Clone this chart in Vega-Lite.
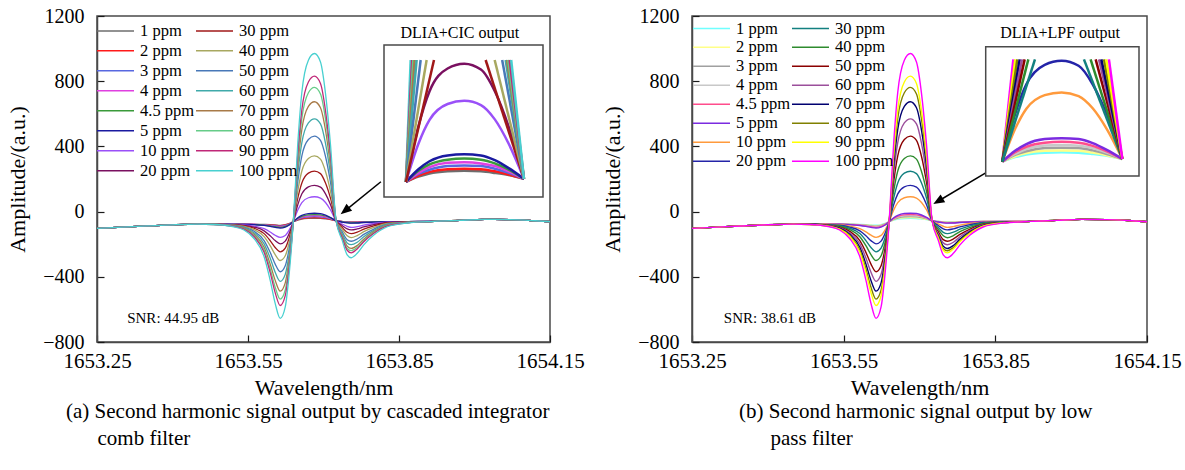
{
  "$schema": "https://vega.github.io/schema/vega-lite/v6.json",
  "background": "white",
  "padding": 5,
  "config": {
    "font": "Times New Roman, Liberation Serif, serif",
    "text": {"font": "Times New Roman, Liberation Serif, serif"},
    "view": {"stroke": "#4a4a4a", "strokeWidth": 1.5},
    "axis": {"grid": false, "domainColor": "#4a4a4a", "domainWidth": 1.5, "tickColor": "#1a1a1a", "tickWidth": 1.2, "tickSize": -7, "labelColor": "black", "titleColor": "black", "labelFont": "Times New Roman, Liberation Serif, serif", "titleFont": "Times New Roman, Liberation Serif, serif", "titleFontWeight": "normal"},
    "axisX": {"labelFontSize": 21, "labelPadding": 15, "titleFontSize": 22, "titlePadding": 6, "labelFlush": false, "labelOverlap": false, "labelBound": false},
    "axisY": {"labelFontSize": 20, "labelPadding": 20, "titleFontSize": 22, "titlePadding": 13, "format": "d"},
    "legend": {"labelFont": "Times New Roman, Liberation Serif, serif", "labelFontSize": 16.5, "labelColor": "black", "symbolType": "stroke", "symbolSize": 1369, "symbolStrokeWidth": 1.5, "padding": 0, "rowPadding": 0, "columnPadding": 0, "labelOffset": 5},
    "title": {"font": "Times New Roman, Liberation Serif, serif", "fontSize": 21, "fontWeight": "normal", "color": "black"}
  },
  "datasets": {
    "main": [
      {"x":1653.25,"p1":-103,"p2":-103,"p3":-103,"p4":-103,"p4_5":-103,"p5":-103,"p10":-103,"p20":-103,"p30":-103,"p40":-103,"p50":-103,"p60":-103,"p70":-103,"p80":-103,"p90":-103,"p100":-103},
      {"x":1653.3,"p1":-95,"p2":-95,"p3":-95,"p4":-95,"p4_5":-95,"p5":-95,"p10":-95,"p20":-95,"p30":-95,"p40":-95,"p50":-95,"p60":-95,"p70":-95,"p80":-95,"p90":-95,"p100":-95},
      {"x":1653.35,"p1":-88,"p2":-88,"p3":-88,"p4":-88,"p4_5":-88,"p5":-88,"p10":-88,"p20":-88,"p30":-88,"p40":-88,"p50":-88,"p60":-88,"p70":-88,"p80":-88,"p90":-88,"p100":-88},
      {"x":1653.4,"p1":-81,"p2":-81,"p3":-81,"p4":-81,"p4_5":-81,"p5":-81,"p10":-81,"p20":-81,"p30":-81,"p40":-81,"p50":-81,"p60":-81,"p70":-81,"p80":-81,"p90":-81,"p100":-81},
      {"x":1653.45,"p1":-77,"p2":-77,"p3":-77,"p4":-77,"p4_5":-77,"p5":-77,"p10":-77,"p20":-77,"p30":-77,"p40":-77,"p50":-77,"p60":-77,"p70":-77,"p80":-77,"p90":-77,"p100":-77},
      {"x":1653.482,"p1":-76,"p2":-76,"p3":-76,"p4":-76,"p4_5":-76,"p5":-76,"p10":-76,"p20":-77,"p30":-77,"p40":-77,"p50":-78,"p60":-78,"p70":-78,"p80":-79,"p90":-79,"p100":-79},
      {"x":1653.522,"p1":-77,"p2":-77,"p3":-77,"p4":-78,"p4_5":-78,"p5":-78,"p10":-79,"p20":-81,"p30":-82,"p40":-83,"p50":-85,"p60":-87,"p70":-89,"p80":-90,"p90":-91,"p100":-93},
      {"x":1653.542,"p1":-77,"p2":-77,"p3":-77,"p4":-77,"p4_5":-78,"p5":-78,"p10":-81,"p20":-84,"p30":-87,"p40":-90,"p50":-95,"p60":-99,"p70":-102,"p80":-106,"p90":-108,"p100":-113},
      {"x":1653.562,"p1":-78,"p2":-78,"p3":-78,"p4":-79,"p4_5":-80,"p5":-80,"p10":-89,"p20":-95,"p30":-102,"p40":-111,"p50":-121,"p60":-130,"p70":-139,"p80":-147,"p90":-153,"p100":-165},
      {"x":1653.582,"p1":-79,"p2":-80,"p3":-81,"p4":-82,"p4_5":-83,"p5":-85,"p10":-105,"p20":-118,"p30":-135,"p40":-154,"p50":-178,"p60":-198,"p70":-219,"p80":-236,"p90":-250,"p100":-277},
      {"x":1653.594,"p1":-80,"p2":-82,"p3":-84,"p4":-86,"p4_5":-88,"p5":-91,"p10":-125,"p20":-148,"p30":-178,"p40":-209,"p50":-250,"p60":-285,"p70":-321,"p80":-350,"p90":-373,"p100":-420},
      {"x":1653.604,"p1":-82,"p2":-84,"p3":-87,"p4":-90,"p4_5":-93,"p5":-97,"p10":-145,"p20":-178,"p30":-220,"p40":-264,"p50":-322,"p60":-372,"p70":-422,"p80":-464,"p90":-497,"p100":-563},
      {"x":1653.614,"p1":-84,"p2":-86,"p3":-89,"p4":-93,"p4_5":-97,"p5":-101,"p10":-158,"p20":-198,"p30":-247,"p40":-300,"p50":-369,"p60":-428,"p70":-488,"p80":-537,"p90":-576,"p100":-655},
      {"x":1653.624,"p1":-80,"p2":-82,"p3":-85,"p4":-88,"p4_5":-91,"p5":-95,"p10":-146,"p20":-181,"p30":-224,"p40":-271,"p50":-332,"p60":-385,"p70":-437,"p80":-481,"p90":-516,"p100":-585},
      {"x":1653.632,"p1":-73,"p2":-74,"p3":-76,"p4":-78,"p4_5":-80,"p5":-82,"p10":-112,"p20":-133,"p30":-159,"p40":-188,"p50":-224,"p60":-256,"p70":-287,"p80":-314,"p90":-334,"p100":-376},
      {"x":1653.64,"p1":-62,"p2":-62,"p3":-62,"p4":-62,"p4_5":-62,"p5":-62,"p10":-62,"p20":-62,"p30":-62,"p40":-62,"p50":-62,"p60":-62,"p70":-62,"p80":-62,"p90":-62,"p100":-62},
      {"x":1653.649,"p1":-52,"p2":-50,"p3":-47,"p4":-45,"p4_5":-41,"p5":-38,"p10":10,"p20":43,"p30":84,"p40":128,"p50":185,"p60":235,"p70":284,"p80":325,"p90":358,"p100":423},
      {"x":1653.657,"p1":-46,"p2":-43,"p3":-39,"p4":-34,"p4_5":-29,"p5":-23,"p10":55,"p20":109,"p30":176,"p40":249,"p50":342,"p60":423,"p70":504,"p80":572,"p90":625,"p100":732},
      {"x":1653.67,"p1":-42,"p2":-38,"p3":-32,"p4":-26,"p4_5":-20,"p5":-12,"p10":85,"p20":152,"p30":236,"p40":326,"p50":442,"p60":544,"p70":645,"p80":729,"p90":795,"p100":929},
      {"x":1653.682,"p1":-41,"p2":-37,"p3":-31,"p4":-25,"p4_5":-18,"p5":-10,"p10":91,"p20":161,"p30":248,"p40":342,"p50":463,"p60":569,"p70":674,"p80":762,"p90":831,"p100":970},
      {"x":1653.694,"p1":-42,"p2":-38,"p3":-32,"p4":-27,"p4_5":-20,"p5":-12,"p10":83,"p20":150,"p30":233,"p40":322,"p50":437,"p60":538,"p70":637,"p80":721,"p90":786,"p100":918},
      {"x":1653.704,"p1":-45,"p2":-42,"p3":-37,"p4":-32,"p4_5":-27,"p5":-21,"p10":56,"p20":109,"p30":175,"p40":246,"p50":338,"p60":419,"p70":499,"p80":566,"p90":618,"p100":724},
      {"x":1653.714,"p1":-49,"p2":-48,"p3":-45,"p4":-42,"p4_5":-39,"p5":-36,"p10":10,"p20":42,"p30":81,"p40":123,"p50":177,"p60":225,"p70":272,"p80":312,"p90":343,"p100":406},
      {"x":1653.725,"p1":-56,"p2":-56,"p3":-56,"p4":-56,"p4_5":-56,"p5":-56,"p10":-56,"p20":-56,"p30":-56,"p40":-56,"p50":-56,"p60":-56,"p70":-56,"p80":-56,"p90":-56,"p100":-56},
      {"x":1653.737,"p1":-60,"p2":-61,"p3":-61,"p4":-62,"p4_5":-63,"p5":-64,"p10":-76,"p20":-85,"p30":-97,"p40":-109,"p50":-123,"p60":-135,"p70":-147,"p80":-155,"p90":-160,"p100":-175},
      {"x":1653.747,"p1":-63,"p2":-64,"p3":-65,"p4":-66,"p4_5":-67,"p5":-69,"p10":-90,"p20":-106,"p30":-127,"p40":-148,"p50":-172,"p60":-192,"p70":-212,"p80":-226,"p90":-237,"p100":-265},
      {"x":1653.755,"p1":-64,"p2":-65,"p3":-66,"p4":-68,"p4_5":-69,"p5":-71,"p10":-97,"p20":-112,"p30":-135,"p40":-160,"p50":-182,"p60":-203,"p70":-226,"p80":-240,"p90":-253,"p100":-283},
      {"x":1653.767,"p1":-64,"p2":-64,"p3":-66,"p4":-67,"p4_5":-68,"p5":-70,"p10":-92,"p20":-106,"p30":-126,"p40":-147,"p50":-168,"p60":-188,"p70":-208,"p80":-220,"p90":-229,"p100":-256},
      {"x":1653.78,"p1":-63,"p2":-63,"p3":-64,"p4":-65,"p4_5":-66,"p5":-67,"p10":-83,"p20":-94,"p30":-108,"p40":-123,"p50":-140,"p60":-154,"p70":-169,"p80":-179,"p90":-185,"p100":-204},
      {"x":1653.8,"p1":-62,"p2":-62,"p3":-62,"p4":-63,"p4_5":-63,"p5":-64,"p10":-73,"p20":-80,"p30":-88,"p40":-97,"p50":-107,"p60":-115,"p70":-123,"p80":-129,"p90":-133,"p100":-144},
      {"x":1653.827,"p1":-61,"p2":-61,"p3":-61,"p4":-61,"p4_5":-61,"p5":-62,"p10":-65,"p20":-67,"p30":-70,"p40":-73,"p50":-77,"p60":-80,"p70":-83,"p80":-86,"p90":-88,"p100":-93},
      {"x":1653.867,"p1":-61,"p2":-61,"p3":-61,"p4":-61,"p4_5":-61,"p5":-61,"p10":-62,"p20":-63,"p30":-64,"p40":-65,"p50":-66,"p60":-67,"p70":-68,"p80":-68,"p90":-69,"p100":-70},
      {"x":1653.92,"p1":-60,"p2":-60,"p3":-60,"p4":-60,"p4_5":-60,"p5":-60,"p10":-60,"p20":-60,"p30":-60,"p40":-60,"p50":-60,"p60":-60,"p70":-60,"p80":-60,"p90":-60,"p100":-60},
      {"x":1653.97,"p1":-54,"p2":-54,"p3":-54,"p4":-54,"p4_5":-54,"p5":-54,"p10":-54,"p20":-54,"p30":-54,"p40":-54,"p50":-54,"p60":-54,"p70":-54,"p80":-54,"p90":-54,"p100":-54},
      {"x":1654.02,"p1":-48,"p2":-48,"p3":-48,"p4":-48,"p4_5":-48,"p5":-48,"p10":-48,"p20":-48,"p30":-48,"p40":-48,"p50":-48,"p60":-48,"p70":-48,"p80":-48,"p90":-48,"p100":-48},
      {"x":1654.07,"p1":-49,"p2":-49,"p3":-49,"p4":-49,"p4_5":-49,"p5":-49,"p10":-49,"p20":-49,"p30":-49,"p40":-49,"p50":-49,"p60":-49,"p70":-49,"p80":-49,"p90":-49,"p100":-49},
      {"x":1654.12,"p1":-56,"p2":-56,"p3":-56,"p4":-56,"p4_5":-56,"p5":-56,"p10":-56,"p20":-56,"p30":-56,"p40":-56,"p50":-56,"p60":-56,"p70":-56,"p80":-56,"p90":-56,"p100":-56},
      {"x":1654.15,"p1":-62,"p2":-62,"p3":-62,"p4":-62,"p4_5":-62,"p5":-62,"p10":-62,"p20":-62,"p30":-62,"p40":-62,"p50":-62,"p60":-62,"p70":-62,"p80":-62,"p90":-62,"p100":-62}
    ]
  },
  "hconcat": [
    {
      "width": 453, "height": 326,
      "title": {"text": ["(a) Second harmonic signal output by cascaded integrator", "\u200b\u00a0\u00a0\u00a0\u00a0\u00a0\u00a0comb filter"], "orient": "bottom", "anchor": "start", "frame": "group", "dx": -31, "offset": 3, "lineHeight": 27, "align": "left"},
      "layer": [
        {"layer": [
          {"data": {"name": "main"},
           "transform": [{"fold": ["p1","p2","p3","p4","p4_5","p5","p10","p20","p30","p40","p50","p60","p70","p80","p90","p100"], "as": ["c", "y"]}],
           "mark": {"type": "line", "interpolate": "monotone", "strokeWidth": 1.3},
           "encoding": {
             "x": {"field": "x", "type": "quantitative", "scale": {"domain": [1653.25, 1654.15], "nice": false, "zero": false}, "axis": {"values": [1653.25, 1653.55, 1653.85, 1654.15], "format": ".2f", "title": "Wavelength/nm"}},
             "y": {"field": "y", "type": "quantitative", "scale": {"domain": [-800, 1200], "nice": false, "zero": false}, "axis": {"values": [-800, -600, -400, -200, 0, 200, 400, 600, 800, 1000, 1200], "title": "Amplitude/(a.u.)"}},
             "color": {"field": "c", "type": "nominal",
               "scale": {"domain": ["p1","p2","p3","p4","p4_5","p5","p10","p20","p30","p40","p50","p60","p70","p80","p90","p100"],
                         "range": ["#6e6e6e","#ff1a1a","#5868e0","#e040e0","#3a9a3a","#1a1aa0","#9a50f8","#7a1060","#a01818","#a8a860","#4878b8","#40aaaa","#a87a48","#66cc88","#c02878","#48d0d0"]},
               "legend": {"orient": "none", "legendX": -1, "legendY": 5, "clipHeight": 19.5, "columns": 2, "title": null, "labelExpr": "replace(slice(datum.label,1),'_','.') + ' ppm'"}}
           }},
          {"data": {"values": [{}]}, "mark": {"type": "rule", "color": "black", "strokeWidth": 1.5},
           "encoding": {"x": {"datum": 1653.814, "type": "quantitative"}, "y": {"datum": 183, "type": "quantitative"}, "x2": {"datum": 1653.742}, "y2": {"datum": 2.5}}},
          {"data": {"values": [{}]}, "mark": {"type": "point", "shape": "M0,0L-0.4,1L0.4,1Z", "filled": true, "color": "black", "opacity": 1, "size": 500, "angle": 231},
           "encoding": {"x": {"datum": 1653.734, "type": "quantitative"}, "y": {"datum": -17, "type": "quantitative"}}},
          {"data": {"values": [{}]}, "mark": {"type": "text", "text": "SNR: 44.95 dB", "align": "left", "baseline": "middle", "fontSize": 15, "color": "black"},
           "encoding": {"x": {"datum": 1653.31, "type": "quantitative"}, "y": {"datum": -650, "type": "quantitative"}}},
          {"data": {"values": [{}]}, "mark": {"type": "text", "text": "DLIA+CIC output", "align": "center", "baseline": "middle", "fontSize": 16, "color": "black"},
           "encoding": {"x": {"datum": 1653.971, "type": "quantitative"}, "y": {"datum": 1093, "type": "quantitative"}}}
        ]},
        {"layer": [
          {"data": {"values": [{}]}, "mark": {"type": "rect", "fill": "white", "stroke": "#4a4a4a", "strokeWidth": 1.5},
           "encoding": {
             "x": {"datum": 1653.6242, "type": "quantitative", "scale": {"domain": [1653.6242, 1653.7387], "range": [287, 446], "nice": false, "zero": false}, "axis": null},
             "x2": {"datum": 1653.7387},
             "y": {"datum": -90.4, "type": "quantitative", "scale": {"domain": [-90.4, 196.3], "range": [181, 29], "nice": false, "zero": false}, "axis": null},
             "y2": {"datum": 196.3}}},
          {"data": {"name": "main"},
           "transform": [{"filter": {"field": "x", "range": [1653.639, 1653.726]}}, {"fold": ["p1","p2","p3","p4","p4_5","p5","p10","p20"], "as": ["c", "y"]}],
           "mark": {"type": "line", "interpolate": "monotone", "strokeWidth": 2.5},
           "encoding": {"x": {"field": "x", "type": "quantitative", "axis": null}, "y": {"field": "y", "type": "quantitative", "axis": null}, "color": {"field": "c", "type": "nominal"}}},
          {"data": {"values": [
             {"c":"p100","x":1653.64,"y":-62,"x2":1653.6434,"y2":168},
             {"c":"p90","x":1653.64,"y":-62,"x2":1653.6445,"y2":168},
             {"c":"p80","x":1653.64,"y":-62,"x2":1653.6453,"y2":168},
             {"c":"p70","x":1653.64,"y":-62,"x2":1653.6463,"y2":168},
             {"c":"p60","x":1653.64,"y":-62,"x2":1653.6477,"y2":168},
             {"c":"p50","x":1653.64,"y":-62,"x2":1653.6506,"y2":168},
             {"c":"p40","x":1653.64,"y":-62,"x2":1653.6549,"y2":168},
             {"c":"p30","x":1653.64,"y":-62,"x2":1653.6602,"y2":168},
             {"c":"p30","x":1653.6974,"y":168,"x2":1653.725,"y2":-56},
             {"c":"p40","x":1653.7039,"y":168,"x2":1653.725,"y2":-56},
             {"c":"p50","x":1653.7093,"y":168,"x2":1653.725,"y2":-56},
             {"c":"p60","x":1653.7118,"y":168,"x2":1653.725,"y2":-56},
             {"c":"p70","x":1653.7129,"y":168,"x2":1653.725,"y2":-56},
             {"c":"p80","x":1653.7137,"y":168,"x2":1653.725,"y2":-56},
             {"c":"p90","x":1653.7147,"y":168,"x2":1653.725,"y2":-56},
             {"c":"p100","x":1653.7158,"y":168,"x2":1653.725,"y2":-56}
           ]},
           "mark": {"type": "rule", "strokeWidth": 2.5},
           "encoding": {"x": {"field": "x", "type": "quantitative", "axis": null}, "y": {"field": "y", "type": "quantitative", "axis": null}, "x2": {"field": "x2"}, "y2": {"field": "y2"}, "color": {"field": "c", "type": "nominal"}}}
        ]}
      ],
      "resolve": {"scale": {"x": "independent", "y": "independent"}}
    },
    {
      "width": 455, "height": 326,
      "title": {"text": ["(b) Second harmonic signal output by low", "\u200b\u00a0\u00a0\u00a0\u00a0\u00a0\u00a0pass filter"], "orient": "bottom", "anchor": "start", "frame": "group", "dx": 47, "offset": 3, "lineHeight": 27, "align": "left"},
      "layer": [
        {"layer": [
          {"data": {"name": "main"},
           "transform": [{"fold": ["p1","p2","p3","p4","p4_5","p5","p10","p20","p30","p40","p50","p60","p70","p80","p90","p100"], "as": ["c", "y"]}],
           "mark": {"type": "line", "interpolate": "monotone", "strokeWidth": 1.4},
           "encoding": {
             "x": {"field": "x", "type": "quantitative", "scale": {"domain": [1653.25, 1654.15], "nice": false, "zero": false}, "axis": {"values": [1653.25, 1653.55, 1653.85, 1654.15], "format": ".2f", "title": "Wavelength/nm"}},
             "y": {"field": "y", "type": "quantitative", "scale": {"domain": [-800, 1200], "nice": false, "zero": false}, "axis": {"values": [-800, -600, -400, -200, 0, 200, 400, 600, 800, 1000, 1200], "title": "Amplitude/(a.u.)"}},
             "color": {"field": "c", "type": "nominal",
               "scale": {"domain": ["p1","p2","p3","p4","p4_5","p5","p10","p20","p30","p40","p50","p60","p70","p80","p90","p100"],
                         "range": ["#70ffff","#ffff88","#a0a0a0","#c8c8c8","#ff4d8c","#7b2be0","#ff9a3c","#2424a8","#138080","#2e8b2e","#8b0000","#9b4f9b","#000070","#808000","#ffff00","#ff00ff"]},
               "legend": {"orient": "none", "legendX": 0, "legendY": 3, "clipHeight": 18.7, "columns": 2, "title": null, "labelExpr": "replace(slice(datum.label,1),'_','.') + ' ppm'"}}
           }},
          {"data": {"values": [{}]}, "mark": {"type": "rule", "color": "black", "strokeWidth": 1.5},
           "encoding": {"x": {"datum": 1653.8335, "type": "quantitative"}, "y": {"datum": 242, "type": "quantitative"}, "x2": {"datum": 1653.7358}, "y2": {"datum": 62}}},
          {"data": {"values": [{}]}, "mark": {"type": "point", "shape": "M0,0L-0.4,1L0.4,1Z", "filled": true, "color": "black", "opacity": 1, "size": 500, "angle": 239},
           "encoding": {"x": {"datum": 1653.7273, "type": "quantitative"}, "y": {"datum": 46, "type": "quantitative"}}},
          {"data": {"values": [{}]}, "mark": {"type": "text", "text": "SNR: 38.61 dB", "align": "left", "baseline": "middle", "fontSize": 15, "color": "black"},
           "encoding": {"x": {"datum": 1653.313, "type": "quantitative"}, "y": {"datum": -650, "type": "quantitative"}}},
          {"data": {"values": [{}]}, "mark": {"type": "text", "text": "DLIA+LPF output", "align": "center", "baseline": "middle", "fontSize": 16, "color": "black"},
           "encoding": {"x": {"datum": 1653.978, "type": "quantitative"}, "y": {"datum": 1093, "type": "quantitative"}}}
        ]},
        {"layer": [
          {"data": {"values": [{}]}, "mark": {"type": "rect", "fill": "white", "stroke": "#4a4a4a", "strokeWidth": 1.5},
           "encoding": {
             "x": {"datum": 1653.6282, "type": "quantitative", "scale": {"domain": [1653.6282, 1653.7368], "range": [293.7, 447], "nice": false, "zero": false}, "axis": null},
             "x2": {"datum": 1653.7368},
             "y": {"datum": -93.6, "type": "quantitative", "scale": {"domain": [-93.6, 192], "range": [160, 30.7], "nice": false, "zero": false}, "axis": null},
             "y2": {"datum": 192}}},
          {"data": {"name": "main"},
           "transform": [{"filter": {"field": "x", "range": [1653.639, 1653.726]}}, {"fold": ["p1","p2","p3","p4","p4_5","p5","p10","p20"], "as": ["c", "y"]}],
           "mark": {"type": "line", "interpolate": "monotone", "strokeWidth": 2.5},
           "encoding": {"x": {"field": "x", "type": "quantitative", "axis": null}, "y": {"field": "y", "type": "quantitative", "axis": null}, "color": {"field": "c", "type": "nominal"}}},
          {"data": {"values": [
             {"c":"p100","x":1653.64,"y":-62,"x2":1653.6478,"y2":164},
             {"c":"p90","x":1653.64,"y":-62,"x2":1653.6492,"y2":164},
             {"c":"p80","x":1653.64,"y":-62,"x2":1653.6506,"y2":164},
             {"c":"p70","x":1653.64,"y":-62,"x2":1653.6523,"y2":164},
             {"c":"p60","x":1653.64,"y":-62,"x2":1653.6539,"y2":164},
             {"c":"p50","x":1653.64,"y":-62,"x2":1653.6558,"y2":164},
             {"c":"p40","x":1653.64,"y":-62,"x2":1653.6584,"y2":164},
             {"c":"p30","x":1653.64,"y":-62,"x2":1653.6631,"y2":164},
             {"c":"p30","x":1653.6978,"y":164,"x2":1653.725,"y2":-56},
             {"c":"p40","x":1653.7025,"y":164,"x2":1653.725,"y2":-56},
             {"c":"p50","x":1653.7061,"y":164,"x2":1653.725,"y2":-56},
             {"c":"p60","x":1653.7085,"y":164,"x2":1653.725,"y2":-56},
             {"c":"p70","x":1653.7101,"y":164,"x2":1653.725,"y2":-56},
             {"c":"p80","x":1653.712,"y":164,"x2":1653.725,"y2":-56},
             {"c":"p90","x":1653.7136,"y":164,"x2":1653.725,"y2":-56},
             {"c":"p100","x":1653.7155,"y":164,"x2":1653.725,"y2":-56}
           ]},
           "mark": {"type": "rule", "strokeWidth": 2.5},
           "encoding": {"x": {"field": "x", "type": "quantitative", "axis": null}, "y": {"field": "y", "type": "quantitative", "axis": null}, "x2": {"field": "x2"}, "y2": {"field": "y2"}, "color": {"field": "c", "type": "nominal"}}}
        ]}
      ],
      "resolve": {"scale": {"x": "independent", "y": "independent"}}
    }
  ],
  "spacing": 142,
  "bounds": "flush",
  "resolve": {"scale": {"color": "independent"}, "legend": {"color": "independent"}}
}
